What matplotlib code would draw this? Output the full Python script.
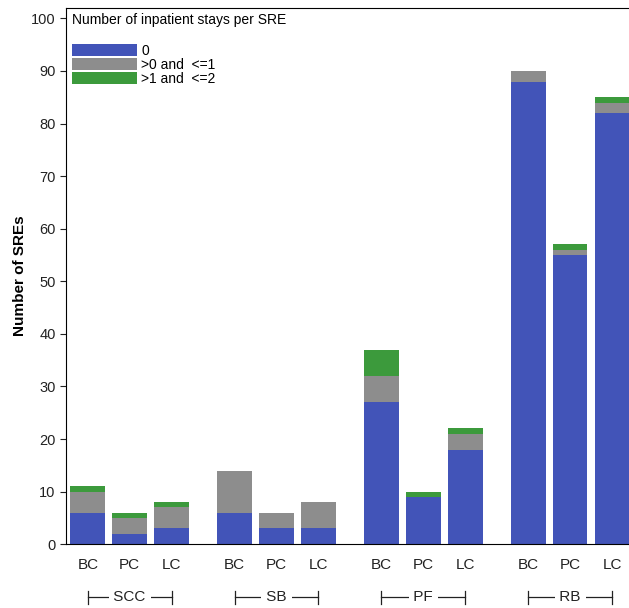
import numpy as np
import matplotlib
matplotlib.use('Agg')
import matplotlib.pyplot as plt
import matplotlib.transforms as mtransforms

plt.rcParams['font.family'] = ['Liberation Sans', 'DejaVu Sans']

groups = ['SCC', 'SB', 'PF', 'RB']
cancers = ['BC', 'PC', 'LC']
stays_0 = [6, 2, 3, 6, 3, 3, 27, 9, 18, 88, 55, 82]
stays_1 = [4, 3, 4, 8, 3, 5, 5, 0, 3, 2, 1, 2]
stays_2 = [1, 1, 1, 0, 0, 0, 5, 1, 1, 0, 1, 1]
legend_labels = ['0', '>0 and  <=1', '>1 and  <=2']
colors = ['#4254b8', '#8d8d8d', '#3c9a3c']

# bar positions: 3 bars per group, half-bar gap between groups
pos = []
for g in range(len(groups)):
    for c in range(len(cancers)):
        pos.append(g * 3.5 + c)
pos = np.array(pos)

fig = plt.figure(figsize=(6.29, 6.08), dpi=100)
ax = fig.add_axes([0.105, 0.105, 0.9, 0.882])

b0 = np.array(stays_0)
b1 = np.array(stays_1)
b2 = np.array(stays_2)
w = 0.83
ax.bar(pos, b0, w, color=colors[0], label=legend_labels[0])
ax.bar(pos, b1, w, bottom=b0, color=colors[1], label=legend_labels[1])
ax.bar(pos, b2, w, bottom=b0 + b1, color=colors[2], label=legend_labels[2])

ax.set_xlim(-0.52, 12.98)
ax.set_ylim(0, 102)
ax.set_yticks(np.arange(0, 101, 10))
ax.tick_params(axis='y', labelsize=10.5, direction='out', length=4, colors='#222222')
ax.set_xticks(pos)
ax.set_xticklabels(cancers * len(groups), fontsize=11, color='#222222')
ax.tick_params(axis='x', length=0, pad=10)
ax.spines['right'].set_visible(False)
ax.set_ylabel('Number of SREs', fontsize=11, fontweight='bold', labelpad=3)

# group brackets under the cancer labels
trans = mtransforms.blended_transform_factory(ax.transData, ax.transAxes)
ybr = -0.099
for g, name in enumerate(groups):
    x0 = pos[g * 3]
    x1 = pos[g * 3 + 2]
    xm = (x0 + x1) / 2
    ax.plot([x0, x1], [ybr, ybr], color='#222222', lw=0.9, transform=trans, clip_on=False)
    ax.plot([x0, x0], [ybr - 0.012, ybr + 0.012], color='#222222', lw=0.9, transform=trans, clip_on=False)
    ax.plot([x1, x1], [ybr - 0.012, ybr + 0.012], color='#222222', lw=0.9, transform=trans, clip_on=False)
    ax.text(xm, ybr, ' ' + name + ' ', transform=trans, ha='center', va='center',
            fontsize=11, color='#222222',
            bbox=dict(facecolor='white', edgecolor='none', pad=0.5))

leg = ax.legend(loc='upper left', title='Number of inpatient stays per SRE', frameon=False,
                fontsize=10, title_fontsize=10, labelspacing=0.0, handleheight=0.95,
                handlelength=4.7, handletextpad=0.3, borderaxespad=0.2, borderpad=0.2)
leg._legend_box.align = 'left'
leg._legend_box.sep = 12

fig.savefig('out.png', dpi=100)
